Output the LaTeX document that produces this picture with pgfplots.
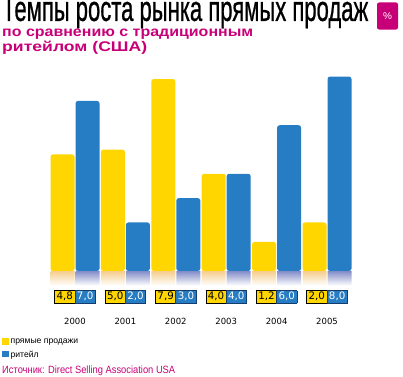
\documentclass[border=0pt]{standalone}
\usepackage{pgfplots}
\pgfplotsset{compat=1.18}
\usepackage{graphicx}
\usepackage{fontspec}
\setmainfont{Liberation Sans}
\newfontfamily\dejavu{DejaVu Sans}
\newfontfamily\titlefont[FakeBold=0.9]{Liberation Sans}
\definecolor{cy}{RGB}{255,214,0}
\definecolor{cb}{RGB}{38,125,195}
\definecolor{cbd}{RGB}{20,60,110}
\definecolor{mag}{RGB}{200,0,120}
\definecolor{ry}{RGB}{245,205,140}
\definecolor{rb}{RGB}{130,140,200}
\newcommand{\vb}[2]{{\dejavu\fontsize{10.3}{10}\selectfont\setlength{\fboxsep}{0pt}\setlength{\fboxrule}{0.8pt}%
\fcolorbox{black}{cy}{\parbox[c][11.5pt][c]{19.5pt}{\centering\color{black}#1}}\hspace{-0.8pt}%
\fcolorbox{cbd}{cb}{\parbox[c][11.5pt][c]{19.5pt}{\centering\color{white}#2}}}}
\begin{document}
\begin{tikzpicture}
\useasboundingbox (0pt,0pt) rectangle (403pt,376pt);
% title
\node[anchor=south west, inner sep=0pt] at (2pt,347.5pt) {\resizebox{366pt}{24.5pt}{\fontsize{29}{29}\titlefont Темпы роста рынка прямых продаж}};
\node[anchor=base west, inner sep=0pt, text=mag] at (2pt,340pt) {\resizebox{251pt}{\height}{\fontsize{14}{14}\selectfont\bfseries по сравнению с традиционным}};
\node[anchor=base west, inner sep=0pt, text=mag] at (2pt,325pt) {\resizebox{145pt}{\height}{\fontsize{14}{14}\selectfont\bfseries ритейлом (США)}};
\node[fill=mag, rounded corners=2pt, minimum width=21pt, minimum height=27pt, inner sep=0pt, text=white] at (387.5pt,360pt) {\fontsize{10}{10}\selectfont\%};
\node[anchor=base west, inner sep=0pt, text=mag] at (2pt,3pt) {\resizebox{173pt}{\height}{\fontsize{10.5}{12}\selectfont Источник: Direct Selling Association USA}};
\begin{axis}[
  at={(49.8pt,105pt)}, anchor=south west,
  x=50.4pt, y=24.3pt,
  xmin=-0.5, xmax=5.5, ymin=0, ymax=8.2,
  ybar, bar width=24pt, clip=false,
  axis line style={draw=none}, major tick length=0pt,
  ytick=\empty, xtick={0,1,2,3,4,5},
  xticklabels={
    {\vb{4,8}{7,0}\\[14pt]2000},
    {\vb{5,0}{2,0}\\[14pt]2001},
    {\vb{7,9}{3,0}\\[14pt]2002},
    {\vb{4,0}{4,0}\\[14pt]2003},
    {\vb{1,2}{6,0}\\[14pt]2004},
    {\vb{2,0}{8,0}\\[14pt]2005}},
  xticklabel style={font=\dejavu\fontsize{8.5}{8.5}\selectfont, align=center, anchor=north, inner sep=0pt, yshift=-19pt},
  legend style={at={(axis cs:-1.45,-2.72)}, anchor=north west, draw=none, fill=none,
     font=\fontsize{8.6}{9}\selectfont, inner sep=0pt, row sep=1.5pt,
     /tikz/every even column/.append style={column sep=2pt}},
  legend cell align=left,
  legend image code/.code={\path[#1, rounded corners=0pt] (0pt,-2.5pt) rectangle (6.5pt,4pt);},
]
\addplot[bar shift=-12.5pt, fill=cy, draw=none, rounded corners=2.5pt,
  legend image post style={draw=cbd, line width=0.4pt}]
  coordinates {(0,4.8) (1,5.0) (2,7.9) (3,4.0) (4,1.2) (5,2.0)};
\addlegendentry{прямые продажи}
\addplot[bar shift=12.5pt, fill=cb, draw=none, rounded corners=2.5pt]
  coordinates {(0,7.0) (1,2.0) (2,3.0) (3,4.0) (4,6.0) (5,8.0)};
\addlegendentry{ритейл}
\addplot[forget plot, bar shift=-12.5pt, draw=none, top color=ry, bottom color=white]
  coordinates {(0,-0.6) (1,-0.6) (2,-0.6) (3,-0.6) (4,-0.6) (5,-0.6)};
\addplot[forget plot, bar shift=12.5pt, draw=none, top color=rb, bottom color=white]
  coordinates {(0,-0.6) (1,-0.6) (2,-0.6) (3,-0.6) (4,-0.6) (5,-0.6)};
\end{axis}
\end{tikzpicture}
\end{document}
